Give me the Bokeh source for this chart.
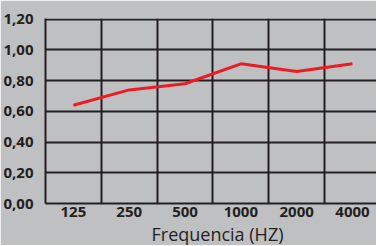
from bokeh.plotting import figure
from bokeh.models import Range1d, FixedTicker, Title, ColumnDataSource
from bokeh.embed import file_html
from bokeh.resources import INLINE

categories = ["125", "250", "500", "1000", "2000", "4000"]
values = [0.64, 0.74, 0.78, 0.91, 0.86, 0.91]
y_ticks = [0.0, 0.2, 0.4, 0.6, 0.8, 1.0, 1.2]
y_labels = ["0,00", "0,20", "0,40", "0,60", "0,80", "1,00", "1,20"]

BG = "#bfc0c2"
INK = "#231f20"
RED = "#ed1c24"

xpos = [i + 0.5 for i in range(len(categories))]
src = ColumnDataSource(dict(x=xpos, y=values))

p = figure(frame_width=331, frame_height=185, output_backend="svg", toolbar_location=None,
           x_range=Range1d(0, 5.93), y_range=Range1d(0, 1.205),
           min_border_left=39, min_border_right=0, min_border_top=18, min_border_bottom=0)
p.background_fill_color = BG
p.border_fill_color = BG
p.outline_line_color = None

p.line("x", "y", source=src, line_color=RED, line_width=3)

# axes
p.xaxis.ticker = FixedTicker(ticks=xpos)
p.xaxis.major_label_overrides = {x: c for x, c in zip(xpos, categories)}
p.yaxis.ticker = FixedTicker(ticks=y_ticks)
p.yaxis.major_label_overrides = {t: l for t, l in zip(y_ticks, y_labels)}
for ax in (p.xaxis, p.yaxis):
    ax.axis_line_color = INK
    ax.axis_line_width = 2
    ax.major_tick_line_color = None
    ax.minor_tick_line_color = None
    ax.major_tick_out = 0
    ax.major_tick_in = 0
    ax.major_label_text_font = "Open Sans"
    ax.major_label_text_font_style = "bold"
    ax.major_label_text_font_size = "15px"
    ax.major_label_text_color = INK
p.yaxis.major_label_standoff = 12
p.xaxis.major_label_standoff = 3

# grids at category boundaries
p.xgrid.ticker = FixedTicker(ticks=list(range(1, len(categories))))
p.ygrid.ticker = FixedTicker(ticks=y_ticks[1:])
for g in (p.xgrid, p.ygrid):
    g.grid_line_color = INK
    g.grid_line_width = 2

t = Title(text="Frequencia (HZ)", align="left", offset=106, standoff=0,
          text_font="Open Sans", text_font_style="normal",
          text_font_size="18px", text_color=INK)
p.add_layout(t, "below")

open("out.html", "w").write(file_html(p, INLINE))
